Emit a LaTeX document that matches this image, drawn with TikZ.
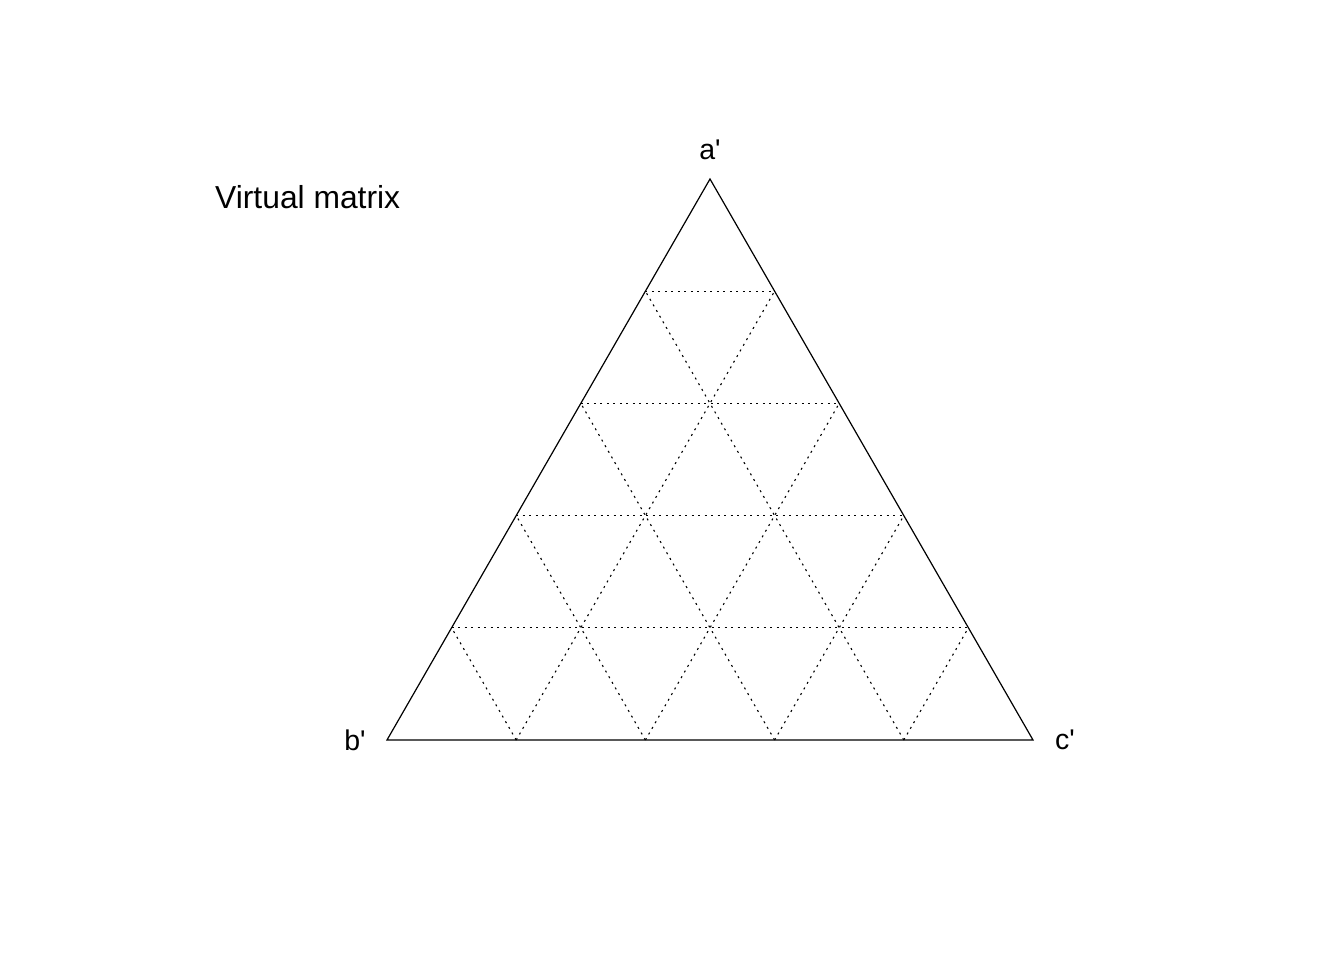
\documentclass[tikz,border=0pt]{standalone}
\usepackage{fontspec}
\setmainfont{Liberation Sans}
\usetikzlibrary{calc}
\tikzset{
    gridline/.style={line width=1.1pt, dash pattern=on 2pt off 4.5pt},
    edge/.style={line width=1.2pt},
    vertexlabel/.style={font=\fontsize{28.5}{33}\selectfont, inner sep=0pt}
}

\begin{document}
\begin{tikzpicture}[x=1pt, y=1pt]
    \useasboundingbox (0, 0) rectangle (1344, 960);

    % Corners
    \coordinate (a) at (710, 781);
    \coordinate (b) at (387, 220);
    \coordinate (c) at (1033, 220);

    % Grid
    \foreach \f in {0.2, 0.4, 0.6, 0.8} {
        \draw[gridline] ($(b)!\f!(a)$) -- ($(c)!\f!(a)$);
        \draw[gridline] ($(b)!\f!(c)$) -- ($(a)!\f!(c)$);
        \draw[gridline] ($(c)!\f!(b)$) -- ($(a)!\f!(b)$);
    }

    % Triangle
    \draw[edge, line join=miter] (a) -- (b) -- (c) -- cycle;

    % Labels
    \node[vertexlabel] (la) at (710, 810) {a\textquotesingle};
    \node[vertexlabel] (lb) at (355, 220) {b\textquotesingle};
    \node[vertexlabel] (lc) at (1065, 220) {c\textquotesingle};
    \node[font=\fontsize{31.8}{36}\selectfont, inner sep=0pt, anchor=west] (title) at (215, 763) {Virtual matrix};
\end{tikzpicture}
\end{document}
